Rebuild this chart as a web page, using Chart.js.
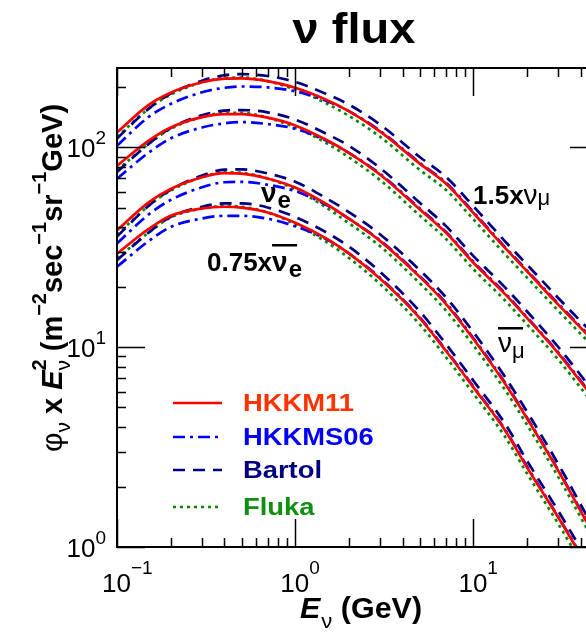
<!DOCTYPE html>
<html><head><meta charset="utf-8">
<script src="https://cdn.jsdelivr.net/npm/chart.js@4.4.1/dist/chart.umd.min.js"></script>
<style>
html,body{margin:0;padding:0;background:#fff;overflow:hidden;}
#wrap{position:relative;width:620px;height:635px;}
canvas{display:block;}
</style></head><body>
<div id="wrap"><canvas id="c" width="620" height="635"></canvas></div>
<script>
// ---- data (E in GeV, flux x E^2 in m^-2 sec^-1 sr^-1 GeV) ----
const energies = [0.1,0.15,0.2,0.3,0.4,0.5,0.7,1,1.5,2,3,5,7,10,15,20,30,50];

const hkkm11_numu15 = [119,163,188,212,221,222,215,199,173,152,120,83,66,47,31.5,24,16.3,10.2];
const hkkms06_numu15 = [102,142,165,189,199,202,200,191,171,152,121,83.8,66.7,47.5,31.8,24.2,16.5,10.3];
const bartol_numu15 = [111,156,186,216,230,233,228,213,185,164,130,89.6,71.3,50.8,34,25.9,17.6,11];
const fluka_numu15 = [113,156,184,212,223,224,215,195,166,144,113,77.2,61.4,43.7,29.3,22.3,15.2,9.5];

const hkkm11_numubar = [81,108,126,142,147,147,141,129,109,94,73,49,37.5,26.5,18.5,14,9.3,5.2];
const hkkms06_numubar = [69.7,94,111,126,132,134,131,124,108,94,73.7,49.5,37.9,26.8,18.7,14.1,9.4,5.25];
const bartol_numubar = [75.3,104,125,145,153,154,150,138,117,102,78.8,52.9,40.5,28.6,20,15.1,10,5.6];
const fluka_numubar = [77,104,124,142,149,149,141,126,105,89.3,68.6,45.6,34.9,24.6,17.2,13,8.65,4.84];

const hkkm11_nue = [38.5,53,62,71,74.5,74,70,63,52,44,34,22.5,16.5,11,6.6,4.4,2.4,1.05];
const hkkms06_nue = [33.1,46.1,54.6,63.2,67,67.3,65.1,60.5,51.5,44,34.3,22.7,16.7,11.1,6.67,4.44,2.42,1.06];
const bartol_nue = [35.8,50.9,61.4,72.4,77.5,77.7,74.2,67.4,55.6,47.5,36.7,24.3,17.8,11.9,7.13,4.75,2.59,1.13];
const fluka_nue = [36.6,50.9,60.8,71,75.2,74.7,70,61.7,49.9,41.8,32,20.9,15.3,10.2,6.14,4.09,2.23,0.98];

const hkkm11_nuebar075 = [29.4,39,45.5,49.5,50.5,50,47.3,42,35,29.5,22,14,9.6,6.3,3.85,2.5,1.4,0.65];
const hkkms06_nuebar075 = [25.3,33.9,40,44.1,45.5,45.5,44,40.3,34.7,29.5,22.2,14.1,9.7,6.36,3.89,2.53,1.41,0.66];
const bartol_nuebar075 = [27.3,37.4,45,50.5,52.5,52.5,50.1,44.9,37.5,31.9,23.8,15.1,10.4,6.8,4.16,2.7,1.51,0.7];
const fluka_nuebar075 = [27.9,37.4,44.6,49.5,51,50.5,47.3,41.2,33.6,28,20.7,13,8.93,5.86,3.58,2.33,1.3,0.6];

const modelNames = ['HKKM11','HKKMS06','Bartol','Fluka'];
const xMajorTicks = [0.1, 1, 10];
const xTickExponents = ['\u22121','0','1'];
const xMinorTicks = [0.2,0.3,0.4,0.5,0.6,0.7,0.8,0.9,2,3,4,5,6,7,8,9,20,30,40];
const yMajorTicks = [1, 10, 100];
const yTickExponents = ['0','1','2'];
const yMinorTicks = [2,3,4,5,6,7,8,9,20,30,40,50,60,70,80,90,200];

// ---- styles ----
const lineStyle = {
  HKKM11: {color:'#ff0000', dash:[], text:'#ff3300'},
  HKKMS06:{color:'#0000ff', dash:[12,5,3,5], text:'#0000ff'},
  Bartol: {color:'#000080', dash:[12,8], text:'#000080'},
  Fluka:  {color:'#008800', dash:[3,4], text:'#0f8f0f'}
};
const groups = [
  {HKKM11:hkkm11_numu15, HKKMS06:hkkms06_numu15, Bartol:bartol_numu15, Fluka:fluka_numu15},
  {HKKM11:hkkm11_numubar, HKKMS06:hkkms06_numubar, Bartol:bartol_numubar, Fluka:fluka_numubar},
  {HKKM11:hkkm11_nue, HKKMS06:hkkms06_nue, Bartol:bartol_nue, Fluka:fluka_nue},
  {HKKM11:hkkm11_nuebar075, HKKMS06:hkkms06_nuebar075, Bartol:bartol_nuebar075, Fluka:fluka_nuebar075}
];
const datasets = [];
modelNames.forEach(m => {
  groups.forEach(g => {
    datasets.push({
      label: m,
      data: energies.map((e,i)=>({x:e, y:g[m][i]})),
      borderColor: lineStyle[m].color,
      borderDash: lineStyle[m].dash,
      borderWidth: 2.7,
      pointRadius: 0,
      fill: false,
      cubicInterpolationMode: 'monotone'
    });
  });
});

const SANS = '"Liberation Sans", Arial, Helvetica, sans-serif';

function drawRuns(ctx, x, y, list, sx) {
  ctx.save();
  ctx.translate(x, y);
  ctx.scale(sx || 1, 1);
  ctx.textBaseline = 'alphabetic';
  ctx.textAlign = 'left';
  let cx = 0;
  for (const r of list) {
    ctx.font = r.f;
    ctx.fillStyle = r.c || '#000';
    const w = ctx.measureText(r.t).width;
    ctx.fillText(r.t, cx + (r.dx || 0), r.dy || 0);
    if (r.bar !== undefined) ctx.fillRect(cx + (r.dx || 0), r.bar, r.barW || w, 2.5);
    cx += (r.adv !== undefined ? r.adv : w) + (r.dx || 0);
  }
  ctx.restore();
  return cx;
}
function runsWidth(ctx, list) {
  let w = 0;
  for (const r of list) { ctx.font = r.f; const m = ctx.measureText(r.t).width; w += (r.adv !== undefined ? r.adv : m) + (r.dx||0); }
  return w;
}

const decor = {
  id: 'decor',
  afterDraw(chart) {
    const ctx = chart.ctx;
    const a = chart.chartArea;
    const xs = chart.scales.x, ys = chart.scales.y;
    ctx.save();
    // frame
    ctx.strokeStyle = '#000';
    ctx.lineWidth = 2;
    ctx.strokeRect(a.left, a.top, a.right - a.left, a.bottom - a.top);
    // ticks
    ctx.lineWidth = 1.5;
    ctx.beginPath();
    const tk = (v, len, isX) => {
      if (isX) {
        const px = Math.round(xs.getPixelForValue(v)) + 0.5;
        ctx.moveTo(px, a.bottom); ctx.lineTo(px, a.bottom - len);
        ctx.moveTo(px, a.top); ctx.lineTo(px, a.top + len);
      } else {
        const py = Math.round(ys.getPixelForValue(v)) + 0.5;
        ctx.moveTo(a.left, py); ctx.lineTo(a.left + len, py);
        ctx.moveTo(a.right, py); ctx.lineTo(a.right - len, py);
      }
    };
    xMajorTicks.forEach(v => tk(v, 28, true));
    xMinorTicks.forEach(v => tk(v, 9, true));
    yMajorTicks.forEach(v => tk(v, 28, false));
    yMinorTicks.forEach(v => tk(v, 9, false));
    ctx.stroke();

    // x tick labels
    xMajorTicks.forEach((v, i) => {
      const px = xs.getPixelForValue(v);
      drawRuns(ctx, px - 15, a.bottom + 45, [
        {t:'10', f:'26px ' + SANS},
        {t:xTickExponents[i], f:'19px ' + SANS, dy:-18}
      ]);
    });
    // y tick labels
    yMajorTicks.forEach((v, i) => {
      const py = ys.getPixelForValue(v);
      const list = [{t:'10', f:'26px ' + SANS}, {t:yTickExponents[i], f:'19px ' + SANS, dy:-13}];
      const w = runsWidth(ctx, list);
      drawRuns(ctx, 106 - w, py + 10, list);
    });

    // title
    const titleRuns = [{t:'\u03bd flux', f:'bold 42px ' + SANS}];
    const tw = runsWidth(ctx, titleRuns) * 1.12;
    drawRuns(ctx, 354 - tw / 2, 43, titleRuns, 1.12);

    // x-axis title
    drawRuns(ctx, 300, 618, [
      {t:'E', f:'italic bold 29px ' + SANS},
      {t:'\u03bd', f:'21px ' + SANS, dy:10, dx:1},
      {t:' (GeV)', f:'bold 29px ' + SANS}
    ], 1.05);

    // y-axis title (rotated)
    ctx.save();
    ctx.translate(62, 452);
    ctx.rotate(-Math.PI / 2);
    const bold = 'bold 29px ' + SANS, sup = 'bold 20px ' + SANS;
    drawRuns(ctx, 0, 0, [
      {t:'\u03c6', f:'30px ' + SANS},
      {t:'\u03bd', f:'21px ' + SANS, dy:8},
      {t:' x ', f:bold},
      {t:'E', f:'italic bold 29px ' + SANS},
      {t:'\u03bd', f:'21px ' + SANS, dy:8, adv:0},
      {t:'2', f:sup, dy:-16},
      {t:' (m', f:bold},
      {t:'\u22122', f:sup, dy:-16},
      {t:'sec', f:bold},
      {t:'\u22121', f:sup, dy:-16},
      {t:'sr', f:bold},
      {t:'\u22121', f:sup, dy:-16},
      {t:'GeV)', f:bold}
    ]);
    ctx.restore();

    // curve annotations
    drawRuns(ctx, 473, 204, [
      {t:'1.5x', f:'bold 26px ' + SANS},
      {t:'\u03bd', f:'28px ' + SANS},
      {t:'\u03bc', f:'22px ' + SANS, dy:1}
    ]);
    drawRuns(ctx, 261, 202, [
      {t:'\u03bd', f:'bold 28px ' + SANS},
      {t:'e', f:'bold 24px ' + SANS, dy:6, dx:1}
    ]);
    drawRuns(ctx, 207, 271, [
      {t:'0.75x', f:'bold 26px ' + SANS},
      {t:'\u03bd', f:'bold 28px ' + SANS, bar:-27, barW:25},
      {t:'e', f:'bold 24px ' + SANS, dy:6, dx:1}
    ]);
    drawRuns(ctx, 498, 352, [
      {t:'\u03bd', f:'28px ' + SANS, bar:-25, barW:25},
      {t:'\u03bc', f:'22px ' + SANS, dy:6, dx:0}
    ]);

    // legend
    const rows = [403, 437, 470, 507];
    modelNames.forEach((m, i) => {
      const y = rows[i];
      ctx.save();
      ctx.strokeStyle = lineStyle[m].color;
      ctx.lineWidth = 2.7;
      ctx.setLineDash(lineStyle[m].dash);
      ctx.beginPath();
      ctx.moveTo(173, y); ctx.lineTo(222, y);
      ctx.stroke();
      ctx.restore();
      drawRuns(ctx, 243, y + 8, [{t:m, f:'bold 24px ' + SANS, c:lineStyle[m].text}], 1.14);
    });
    ctx.restore();
  }
};

new Chart(document.getElementById('c'), {
  type: 'line',
  data: { datasets },
  options: {
    responsive: false,
    animation: false,
    devicePixelRatio: 1,
    layout: { padding: { left: 117, top: 68, right: 22, bottom: 88 } },
    plugins: { legend: { display: false }, tooltip: { enabled: false }, title: { display: false } },
    scales: {
      x: { type: 'logarithmic', min: 0.1, max: 50, display: false },
      y: { type: 'logarithmic', min: 1, max: 250, display: false }
    }
  },
  plugins: [decor]
});
</script>
</body></html>
